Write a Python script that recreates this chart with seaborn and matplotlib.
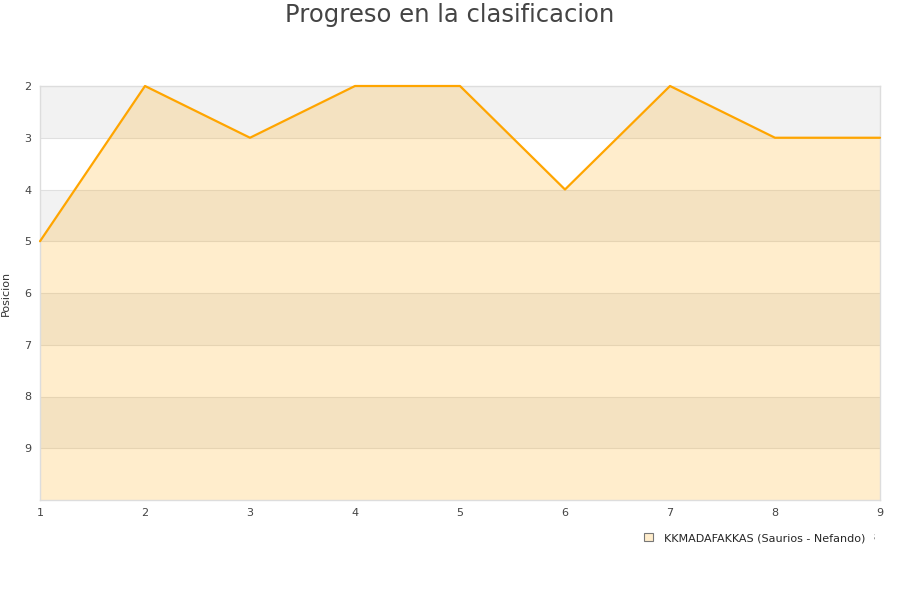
import numpy as np
import pandas as pd
import matplotlib
matplotlib.use("Agg")
import matplotlib.pyplot as plt
import seaborn as sns
from matplotlib.patches import Patch

# ── Data ──────────────────────────────────────────────────────────────────────
jornadas  = [1, 2, 3, 4, 5, 6, 7, 8, 9]
posicion  = [5, 2, 3, 2, 2, 4, 2, 3, 3]
y_ticks   = [2, 3, 4, 5, 6, 7, 8, 9]
equipo    = "KKMADAFAKKAS (Saurios - Nefando)"
titulo    = "Progreso en la clasificacion"

df = pd.DataFrame({"Jornada": jornadas, "Posicion": posicion})

sns.set_style("white")
plt.rcParams["font.family"] = ["DejaVu Sans"]

fig = plt.figure(figsize=(9, 6), dpi=100)
ax = fig.add_axes([40 / 900, 1 - 500 / 600, 840 / 900, 414 / 600])

# alternating bands
for lo in range(2, 10):
    if lo % 2 == 0:
        ax.axhspan(lo, lo + 1, color="#f2f2f2", lw=0, zorder=0)
    ax.axhline(lo, color="#e0e0e0", lw=0.8, zorder=0.5)

ax.fill_between(df["Jornada"], df["Posicion"], 10, color="orange", alpha=0.2,
                lw=0, zorder=1)
sns.lineplot(data=df, x="Jornada", y="Posicion", ax=ax, color="orange", lw=1.6,
             zorder=3, clip_on=False)

ax.set_xlim(1, 9)
ax.set_ylim(10, 2)
ax.set_yticks(y_ticks)
ax.set_xticks(jornadas)
ax.tick_params(length=0, labelsize=8, labelcolor="#444444", pad=6)
ax.set_ylabel("Posicion", fontsize=8, color="#333333", labelpad=10)
# x label sits mostly hidden behind the legend, as in the original
ax.set_xlabel("Jornadas", fontsize=7, color="#333333")
ax.xaxis.set_label_coords(0.995, -0.078)
ax.xaxis.label.set_horizontalalignment("right")
for sp in ax.spines.values():
    sp.set_color("#dddddd")
    sp.set_linewidth(1)

fig.suptitle(titulo, y=0.995, fontsize=17.5, color="#444444")

handle = Patch(facecolor=(1.0, 0.93, 0.8), edgecolor="#777777", lw=0.8)
leg = fig.legend([handle], [equipo], loc="center", bbox_to_anchor=(755 / 900, 1 - 538 / 600),
                 frameon=True, fontsize=8, handlelength=0.8, handleheight=0.8,
                 handletextpad=1.0, borderpad=0.7)
leg.get_frame().set_edgecolor("white")
leg.get_frame().set_facecolor("white")
leg.get_frame().set_alpha(1)
leg.set_zorder(10)

fig.savefig("out.png", dpi=100)
